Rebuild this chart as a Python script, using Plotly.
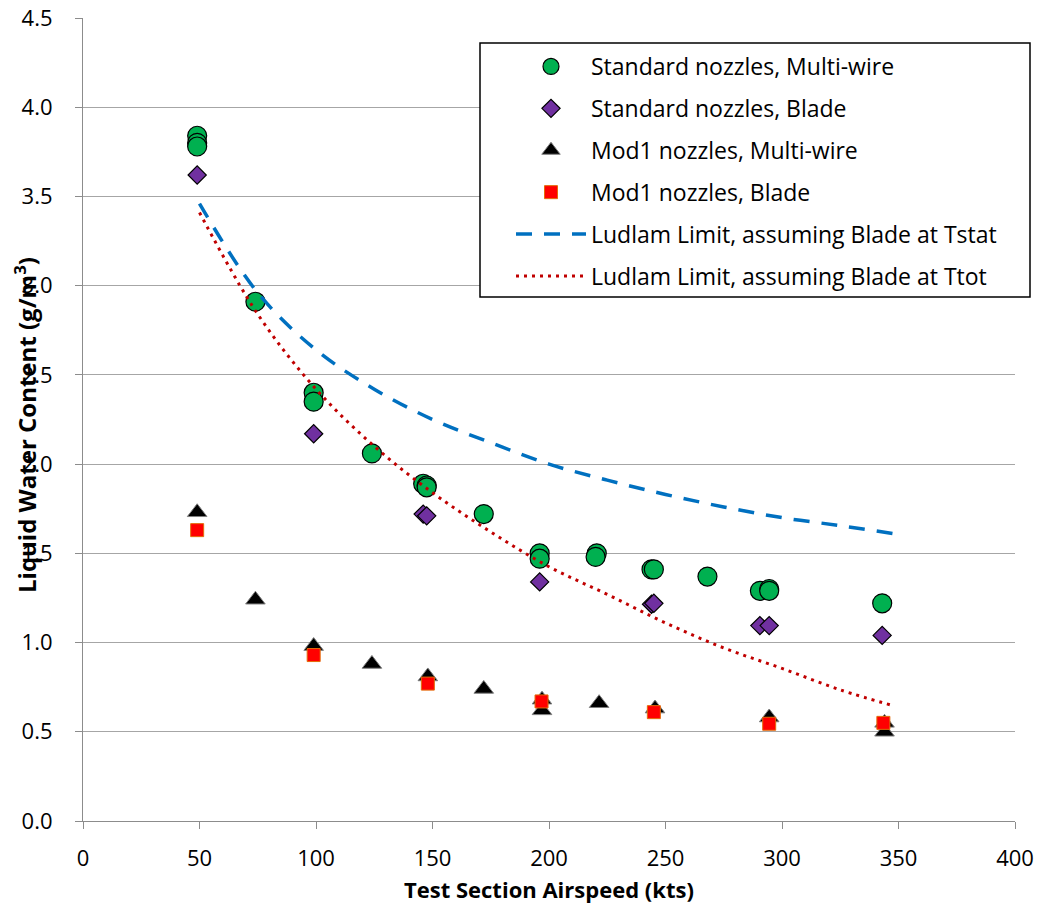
import plotly.graph_objects as go

# ---- data ----
std_mw_x = [49, 49, 49, 74, 99, 99, 124, 146, 147.5, 147.5, 172, 196, 196, 220.5, 220, 244, 245, 268, 290.5, 294.5, 294.5, 343]
std_mw_y = [3.84, 3.80, 3.78, 2.91, 2.40, 2.35, 2.06, 1.89, 1.88, 1.87, 1.72, 1.50, 1.47, 1.50, 1.48, 1.41, 1.41, 1.37, 1.29, 1.30, 1.29, 1.22]

std_bl_x = [49, 99, 146, 147.5, 196, 244, 245, 290.5, 294.5, 343]
std_bl_y = [3.62, 2.17, 1.72, 1.71, 1.34, 1.215, 1.22, 1.095, 1.095, 1.04]

mod_mw_x = [49, 74, 99, 124, 148, 172, 197, 197, 221.5, 245.5, 294.5, 344, 344]
mod_mw_y = [1.73, 1.24, 0.98, 0.88, 0.81, 0.74, 0.62, 0.68, 0.66, 0.63, 0.58, 0.50, 0.55]

mod_bl_x = [49, 99, 148, 196.8, 245, 294.5, 343.5]
mod_bl_y = [1.63, 0.93, 0.77, 0.67, 0.61, 0.545, 0.55]

lud_x = [50, 75, 100, 125, 150, 175, 200, 225, 250, 275, 300, 325, 348]
lud_tstat_y = [3.46, 2.96, 2.64, 2.42, 2.25, 2.12, 2.00, 1.91, 1.83, 1.76, 1.70, 1.655, 1.61]
lud_ttot_y = [3.41, 2.84, 2.42, 2.10, 1.84, 1.62, 1.425, 1.27, 1.11, 0.97, 0.855, 0.735, 0.645]

x_ticks = [0, 50, 100, 150, 200, 250, 300, 350, 400]
y_ticks = [0.0, 0.5, 1.0, 1.5, 2.0, 2.5, 3.0, 3.5, 4.0, 4.5]

FONT = "Open Sans"
W, H = 1037, 905
ML, MT = 83, 18
PW, PH = 932, 803
MR, MB = W - ML - PW, H - MT - PH


def px_x(p):  # screenshot pixel -> paper x
    return (p - ML) / PW


def px_y(p):  # screenshot pixel -> paper y
    return (MT + PH - p) / PH


fig = go.Figure()
fig.add_trace(go.Scatter(x=std_mw_x, y=std_mw_y, mode="markers", name="Standard nozzles, Multi-wire",
                         legendgroup="a",
                         marker=dict(symbol="circle", size=19, color="#00B050", line=dict(color="black", width=1.2))))
fig.add_trace(go.Scatter(x=std_bl_x, y=std_bl_y, mode="markers", name="Standard nozzles, Blade",
                         legendgroup="b",
                         marker=dict(symbol="diamond", size=14, color="#7030A0", line=dict(color="black", width=1.2))))
fig.add_trace(go.Scatter(x=mod_mw_x, y=mod_mw_y, mode="markers", name="Mod1 nozzles, Multi-wire",
                         legendgroup="c",
                         marker=dict(symbol="triangle-up", size=17, color="black", line=dict(color="#7F7F7F", width=1))))
fig.add_trace(go.Scatter(x=mod_bl_x, y=mod_bl_y, mode="markers", name="Mod1 nozzles, Blade",
                         legendgroup="d",
                         marker=dict(symbol="square", size=13, color="#FF0000", line=dict(color="#E46C0A", width=1))))
fig.add_trace(go.Scatter(x=lud_x, y=lud_tstat_y, mode="lines", name="Ludlam Limit, assuming Blade at Tstat",
                         legendgroup="e", line=dict(color="#0070C0", width=3.5, dash="16px,12px", shape="spline")))
fig.add_trace(go.Scatter(x=lud_x, y=lud_ttot_y, mode="lines", name="Ludlam Limit, assuming Blade at Ttot",
                         legendgroup="f", line=dict(color="#C00000", width=3, dash="3px,5px", shape="spline")))

fig.update_layout(
    width=W, height=H,
    margin=dict(l=ML, r=MR, t=MT, b=MB),
    paper_bgcolor="white", plot_bgcolor="white",
    font=dict(family=FONT, size=22, color="black"),
    showlegend=True,
    legend=dict(x=px_x(511), y=px_y(45), xanchor="left", yanchor="top",
                bgcolor="rgba(0,0,0,0)", borderwidth=0,
                font=dict(family=FONT, size=23), tracegroupgap=9,
                itemwidth=70),
    shapes=[dict(type="rect", xref="paper", yref="paper", layer="above",
                 x0=px_x(480), x1=px_x(1030), y0=px_y(297), y1=px_y(43),
                 fillcolor="white", line=dict(color="black", width=1.5))],
    xaxis=dict(range=[0, 400], tickvals=x_ticks, ticktext=[str(v) for v in x_ticks],
               automargin=False,
               showgrid=False, showline=True, linecolor="#8C8C8C", linewidth=1.2,
               ticks="outside", ticklen=7, tickcolor="#8C8C8C", zeroline=False,
               ticklabelstandoff=10, ticklabeloverflow="allow",
               tickfont=dict(family=FONT, size=22)),
    yaxis=dict(range=[0, 4.5], tickvals=y_ticks, ticktext=[f"{v:.1f}" for v in y_ticks],
               automargin=False,
               showgrid=True, gridcolor="#A6A6A6", gridwidth=1.2,
               showline=True, linecolor="#8C8C8C", linewidth=1.2,
               ticks="outside", ticklen=7, tickcolor="#8C8C8C", zeroline=False,
               ticklabelstandoff=18, ticklabeloverflow="allow",
               tickfont=dict(family=FONT, size=22)),
    annotations=[
        dict(text="<b>Liquid Water Content (g/m<sup>3</sup>)</b>", xref="paper", yref="paper",
             x=px_x(25), y=px_y(425), xanchor="center", yanchor="middle",
             textangle=-90, showarrow=False, font=dict(family=FONT, size=24)),
        dict(text="<b>Test Section Airspeed (kts)</b>", xref="paper", yref="paper",
             x=px_x(549), y=px_y(889), xanchor="center", yanchor="middle",
             showarrow=False, font=dict(family=FONT, size=22)),
    ],
)

fig.write_html("out.html", config={"displayModeBar": False},
               post_script="document.body.style.margin='0';document.body.style.overflow='hidden';")
